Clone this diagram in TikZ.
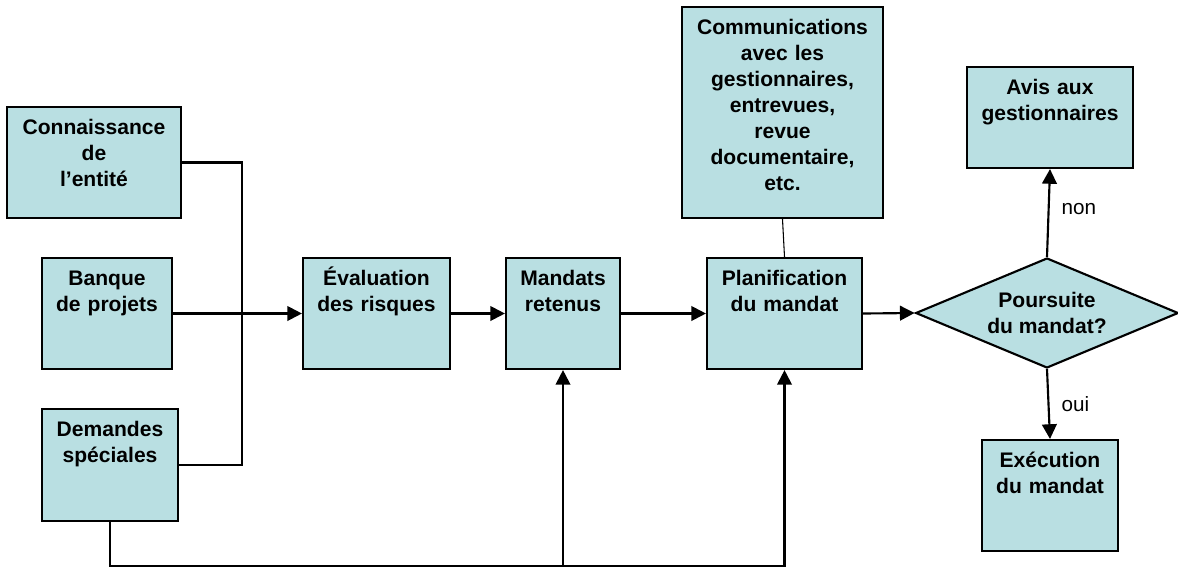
\documentclass[tikz,border=0pt]{standalone}
\usepackage{fontspec}
\setmainfont{Liberation Sans}
\usetikzlibrary{arrows.meta,shapes.geometric}
\definecolor{boxblue}{RGB}{185,223,226}
\tikzset{
  proc/.style={draw, fill=boxblue, line width=1.6pt, align=center, inner sep=0pt,
    font=\fontsize{15.8}{19.5}\selectfont\bfseries, text height=20.5pt},
  decide/.style={draw, fill=boxblue, line width=1.6pt, diamond, aspect=2.4, align=center, inner sep=0pt,
    font=\fontsize{15.8}{19.5}\selectfont\bfseries, minimum width=197pt, minimum height=82.5pt},
  flow/.style={line width=1.6pt, -{Triangle[length=11pt,width=11pt]}},
  link/.style={line width=1.6pt},
  tag/.style={right, xshift=9pt, inner sep=0pt, font=\fontsize{15.5}{18}\selectfont}
}
\def\procbox(#1,#2,#3,#4,#5,#6){
  \node[proc, text width=#4, text depth=#5] (#1) at (#2,#3) {#6};
}

\begin{document}
\begin{tikzpicture}[x=0.75pt, y=-0.75pt]
\useasboundingbox (0,0) rectangle (1178,569);
% sources
\procbox(conn,94,162.5,130.5pt,62.75pt,Connaissance\\de\\l’entité)
\procbox(bank,107,313.5,97.5pt,62.75pt,Banque\\de projets)
\procbox(dem,110,465,102pt,63.5pt,Demandes\\spéciales)
% main chain
\procbox(eval,376.5,313.5,110.25pt,62.75pt,Évaluation\\des risques)
\procbox(mand,563,313.5,85.5pt,62.75pt,Mandats\\retenus)
\procbox(plan,784.5,313.5,116.25pt,62.75pt,Planification\\du mandat)
\procbox(comm,782.5,112.5,150.75pt,137.75pt,Communications\\avec les\\gestionnaires,\\entrevues,\\revue\\documentaire,\\etc.)
\node[decide] (dec) at (1047,313) {Poursuite\\du mandat?};
\procbox(avis,1050,117.5,124.5pt,55.25pt,Avis aux\\gestionnaires)
\procbox(exec,1050,495.5,102pt,62.75pt,Exécution\\du mandat)
\coordinate (jn) at (242,313);
\coordinate (bot) at (0,566);
% connectors
\draw[link] (conn.east) -| (jn) |- (dem.east);
\draw[flow] (bank.east) -- (eval.west);
\draw[flow] (eval.east) -- (mand.west);
\draw[flow] (mand.east) -- (plan.west);
\draw[flow] (plan.east) -- (dec.west);
\draw[line width=0.8pt] (comm.south) -- (plan.north);
\draw[flow] (dec.north) -- node[tag, pos=0.55] (lnon) {non} (avis.south);
\draw[flow] (dec.south) -- node[tag, midway] (loui) {oui} (exec.north);
\draw[flow] (dem.south) |- (plan.south |- bot) -- (plan.south);
\draw[flow] (mand.south |- bot) -- (mand.south);
\end{tikzpicture}
\end{document}
